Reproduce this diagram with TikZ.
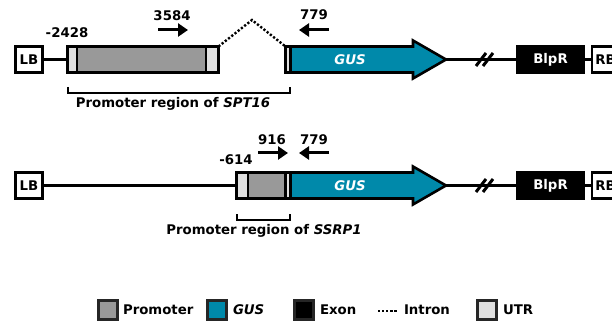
\documentclass[tikz,border=0pt]{standalone}
\usepackage{fontspec}
\setmainfont{DejaVu Sans}
\usetikzlibrary{arrows.meta}
\definecolor{gusc}{RGB}{0,137,170}
\definecolor{promc}{RGB}{153,153,153}
\definecolor{utrc}{RGB}{224,224,224}
\begin{document}
\begin{tikzpicture}[x=1pt,y=-1pt,
  font=\fontsize{13.3}{15}\selectfont\bfseries,
  blk/.style={draw, line width=2.6pt, inner sep=0pt, outer sep=0pt, minimum height=26pt},
  utr/.style={blk, fill=utrc},
  prom/.style={blk, fill=promc},
  lbl/.style={blk, fill=white, minimum width=27pt},
  exon/.style={blk, fill=black, text=white, minimum width=66pt},
  bb/.style={line width=3pt},
  primer/.style={line width=3pt, -{Triangle[length=10pt,width=13pt]}},
  gusarrow/.style={draw, line width=2.6pt, fill=gusc, line join=miter},
  txt/.style={inner sep=0pt, outer sep=0pt},
  bracket/.style={line width=2pt},
  intron/.style={line width=2.4pt, dash pattern=on 2.2pt off 1.9pt},
  legbox/.style={draw=black!85, line width=2.2pt, minimum width=19pt, minimum height=19pt, inner sep=0pt}
]
\useasboundingbox (0,0) rectangle (612,323);
\clip (0,0) rectangle (612,323);

% ---------- Row 1 ----------
\node[lbl, anchor=west] (lb1) at (15.5,59.5) {LB};
\node[utr, minimum width=9.5pt, anchor=west] (a1) at (67.5,59.5) {};
\node[prom, minimum width=129pt, anchor=west] (p1) at (77,59.5) {};
\node[utr, minimum width=12.5pt, anchor=west] (a2) at (206,59.5) {};
\node[utr, minimum width=5pt, anchor=west] (a3) at (285.5,59.5) {};
\draw[gusarrow] (290.5,46.5) -- (413,46.5) -- (413,40.5) -- (446,59.5) -- (413,78.5) -- (413,72.5) -- (290.5,72.5) -- cycle;
\node[txt, text=white] (gus1) at (350,59.5) {\textit{GUS}};
\coordinate (t1) at (446,59.5);
\node[exon, anchor=west] (bl1) at (517.5,59.5) {BlpR};
\node[lbl, anchor=west] (rb1) at (592,59.5) {RB};
\draw[bb] (lb1) -- (a1);
\draw[bb] (t1) -- (bl1);
\draw[bb] (bl1) -- (rb1);
\draw[bb] (476,66) -- (486,53);
\draw[bb] (483,66) -- (493,53);
\coordinate (peak) at (252,20);
\draw[intron] (a2.north east) -- (peak) -- (a3.north west);
\node[txt] (n2428) at (67,33) {-2428};
\node[txt] (n3584) at (172,16) {3584};
\coordinate (f1s) at (158,30); \coordinate (f1e) at (188,30);
\draw[primer] (f1s) -- (f1e);
\node[txt] (n779a) at (314,15) {779};
\coordinate (r1s) at (329,30); \coordinate (r1e) at (299,30);
\draw[primer] (r1s) -- (r1e);
\draw[bracket] (67.5,87) -- (67.5,93) -- (290,93) -- (290,87);
\node[txt] (reg1) at (173,104) {Promoter region of \textit{SPT16}};

% ---------- Row 2 ----------
\node[lbl, anchor=west] (lb2) at (15.5,185.5) {LB};
\node[utr, minimum width=11.5pt, anchor=west] (b1) at (236.5,185.5) {};
\node[prom, minimum width=37pt, anchor=west] (q1) at (248,185.5) {};
\node[utr, minimum width=5pt, anchor=west] (b3) at (285.5,185.5) {};
\draw[gusarrow] (290.5,172.5) -- (413,172.5) -- (413,166.5) -- (446,185.5) -- (413,204.5) -- (413,198.5) -- (290.5,198.5) -- cycle;
\node[txt, text=white] (gus2) at (350,185.5) {\textit{GUS}};
\coordinate (t2) at (446,185.5);
\node[exon, anchor=west] (bl2) at (517.5,185.5) {BlpR};
\node[lbl, anchor=west] (rb2) at (592,185.5) {RB};
\draw[bb] (lb2) -- (b1);
\draw[bb] (t2) -- (bl2);
\draw[bb] (bl2) -- (rb2);
\draw[bb] (476,192) -- (486,179);
\draw[bb] (483,192) -- (493,179);
\node[txt] (n614) at (236,160) {-614};
\node[txt] (n916) at (272,140) {916};
\coordinate (f2s) at (258,153); \coordinate (f2e) at (288,153);
\draw[primer] (f2s) -- (f2e);
\node[txt] (n779b) at (314,140) {779};
\coordinate (r2s) at (329,153); \coordinate (r2e) at (299,153);
\draw[primer] (r2s) -- (r2e);
\draw[bracket] (236.5,214) -- (236.5,220) -- (290,220) -- (290,214);
\node[txt] (reg2) at (264,231) {Promoter region of \textit{SSRP1}};

% ---------- Legend ----------
\node[legbox, fill=promc] (lp) at (108,310) {};
\node[txt, anchor=west] (ltp) at (123,310) {Promoter};
\node[legbox, fill=gusc] (lg) at (217,310) {};
\node[txt, anchor=west] (ltg) at (233,310) {\textit{GUS}};
\node[legbox, fill=black] (le) at (304,310) {};
\node[txt, anchor=west] (lte) at (320,310) {Exon};
\coordinate (ds) at (378,311); \coordinate (de) at (398,311);
\draw[intron] (ds) -- (de);
\node[txt, anchor=west] (lti) at (404,310) {Intron};
\node[legbox, fill=utrc] (lu) at (487,310) {};
\node[txt, anchor=west] (ltu) at (503,310) {UTR};
\end{tikzpicture}
\end{document}
